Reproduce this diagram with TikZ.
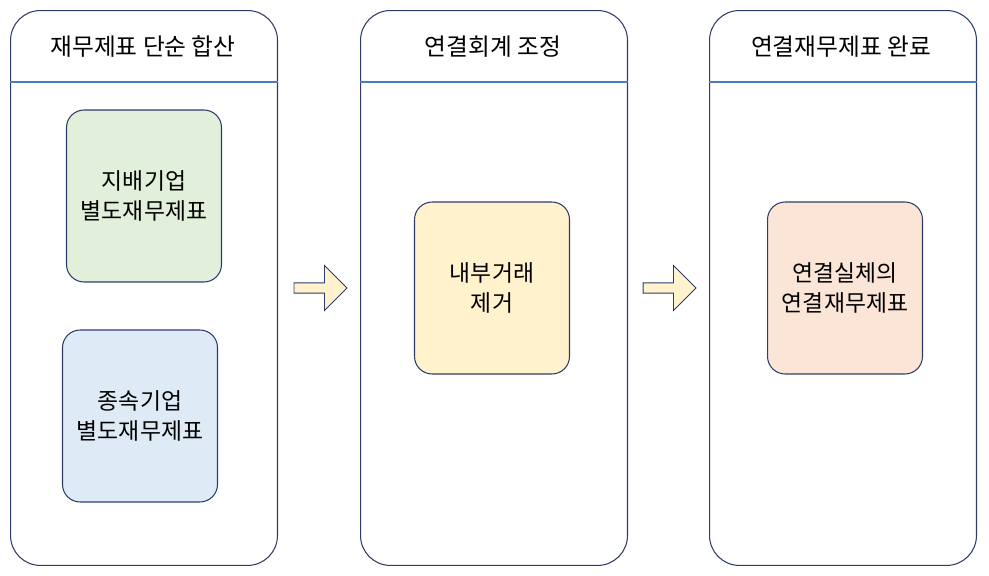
\documentclass[tikz,border=0pt]{standalone}
\usepackage{fontspec}
\setmainfont{Noto Sans CJK KR}
\usetikzlibrary{positioning,shapes.arrows}
\definecolor{edge}{HTML}{2F3B6B}
\definecolor{hline}{HTML}{4A7EBB}
\definecolor{fgreen}{HTML}{E2EFDA}
\definecolor{fblue}{HTML}{DEEBF7}
\definecolor{fyellow}{HTML}{FFF2CC}
\definecolor{fpeach}{HTML}{FBE5D6}
\tikzset{
  panel/.style={draw=edge, rounded corners=17pt, minimum width=5.34cm, minimum height=11.1cm, anchor=north west, line width=0.6pt},
  box/.style={draw=edge, rounded corners=10pt, minimum width=3.1cm, minimum height=3.44cm, align=center, line width=0.6pt, font=\fontsize{13}{17}\selectfont},
  head/.style={font=\fontsize{13.5}{17}\selectfont},
  flowarrow/.style={single arrow, draw=edge, fill=fyellow, minimum height=1.06cm, minimum width=0.9cm, single arrow head extend=0.03cm, inner sep=0pt, line width=0.5pt}
}
\begin{document}
\begin{tikzpicture}[x=0.02cm,y=-0.02cm]
\useasboundingbox (0,0) rectangle (989,575);

% panels
\node[panel] (P1) at (10,10) {};
\node[panel] (P2) at (360,10) {};
\node[panel] (P3) at (709,10) {};

% header lines
\foreach \p in {P1,P2,P3}
  \draw[hline, line width=0.6pt] ([yshift=-1.44cm]\p.north west) -- ([yshift=-1.44cm]\p.north east);

% headers
\node[head] (H1) at (143,47) {재무제표 단순 합산};
\node[head] (H2) at (493,47) {연결회계 조정};
\node[head] (H3) at (841,47) {연결재무제표 완료};

% boxes
\node[box, fill=fgreen] (parent) at (144,196) {지배기업\\별도재무제표};
\node[box, fill=fblue] (sub) at (140,416) {종속기업\\별도재무제표};
\node[box, fill=fyellow] (elim) at (492,288) {내부거래\\제거};
\node[box, fill=fpeach] (cons) at (845,288) {연결실체의\\연결재무제표};

% arrows
\node[flowarrow] (A1) at (318,288) {};
\node[flowarrow] (A2) at (667,288) {};
\end{tikzpicture}
\end{document}
